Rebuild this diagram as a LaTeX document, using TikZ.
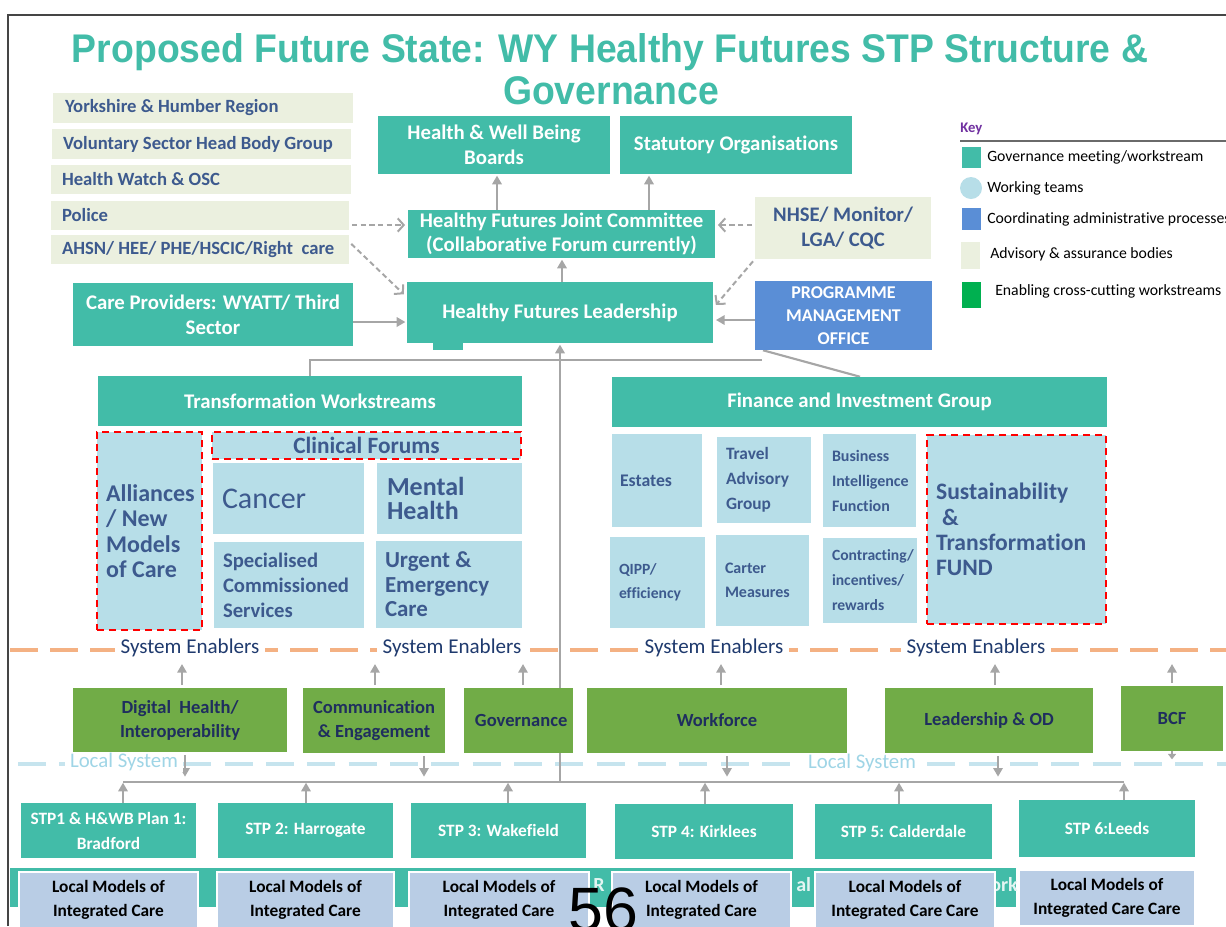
\documentclass[tikz,border=0pt]{standalone}
\usepackage{fontspec}
\usepackage{graphicx}
\setmainfont{Carlito}[Ligatures=NoCommon]
\newfontfamily\titlefont{Liberation Sans}
\usetikzlibrary{arrows.meta}
\definecolor{teal1}{HTML}{42BCA8}
\definecolor{advc}{HTML}{EBF0DF}
\definecolor{dblue}{HTML}{3D5A8E}
\definecolor{wtc}{HTML}{B7DEE8}
\definecolor{pmoc}{HTML}{5A8ED6}
\definecolor{greenc}{HTML}{71AC47}
\definecolor{navy}{HTML}{1F2E5E}
\definecolor{keygreen}{HTML}{00B050}
\definecolor{lmcol}{HTML}{B9CDE5}
\definecolor{gray1}{HTML}{A6A6A6}
\definecolor{orangec}{HTML}{F4B183}
\definecolor{lblue}{HTML}{C6E4EE}
\definecolor{lstext}{HTML}{9FD5E6}
\definecolor{seblue}{HTML}{1F3A6E}
\definecolor{purple1}{HTML}{7030A0}
\definecolor{framec}{HTML}{454545}
\pgfdeclarelayer{bg}
\pgfsetlayers{bg,main}
\newcommand\mybox[7]{%
 \pgfmathsetmacro\mybw{((#5)-(#3))*0.75}\pgfmathsetmacro\mybh{((#6)-(#4))*0.75}%
 \node[inner sep=0pt, minimum width=\mybw pt, minimum height=\mybh pt, #2] (#1) at ({((#3)+(#5))/2},{((#4)+(#6))/2}) {#7};}
\newcommand\myboxl[9]{%
 \mybox{#1}{#2}{#4}{#5}{#6}{#7}{}%
 \node[inner sep=0pt, anchor=west, align=left, #3] (#1t) at ([xshift=#8*0.75pt]#1.west) {#9};}
\tikzset{
 gov/.style={fill=teal1, text=white, align=center, font=\bfseries\fontsize{15.6}{18.75}\selectfont},
 adv/.style={fill=advc},
 advt/.style={text=dblue, font=\bfseries\fontsize{14}{16}\selectfont},
 wt/.style={fill=wtc},
 wtt/.style={text=dblue},
 rdash/.style={draw=red, line width=1.7pt, dash pattern=on 5.5pt off 3.5pt},
 ena/.style={fill=greenc, text=navy, align=center, font=\bfseries\fontsize{13.9}{18}\selectfont},
 stp/.style={fill=teal1, text=white, align=center, font=\bfseries\fontsize{13}{18.75}\selectfont},
 lm/.style={fill=lmcol, draw=white, line width=1.5pt, text=black, align=center, font=\bfseries\fontsize{13}{18}\selectfont},
 conn/.style={draw=gray1, line width=1.6pt},
 arr/.style={conn, -{Triangle[length=6.5pt,width=7pt]}},
 darr/.style={draw=gray1, line width=1.5pt, dash pattern=on 4pt off 2.5pt, -{Straight Barb[length=4.5pt,width=10pt]}},
 se/.style={fill=white, text=seblue, inner xsep=4pt, inner ysep=1pt, font=\fontsize{15.8}{18}\selectfont},
 ls/.style={fill=white, text=lstext, inner xsep=4pt, inner ysep=1pt, font=\fontsize{15.6}{18}\selectfont},
 orline/.style={draw=orangec, line width=3pt, dash pattern=on 21pt off 9pt},
 blline/.style={draw=lblue, line width=3pt, dash pattern=on 21pt off 10pt},
 keyt/.style={anchor=west, inner sep=0pt, text=black, font=\fontsize{11.8}{13}\selectfont},
 frag/.style={anchor=west, inner sep=0pt, text=white!85!teal1, font=\bfseries\fontsize{15}{18}\selectfont},
}
\begin{document}
\begin{tikzpicture}[x=0.75pt,y=-0.75pt]
\useasboundingbox (0,0) rectangle (1226,926);
% frame
\draw[draw=framec, line width=1.5pt] (8,926) -- (8,15) -- (1226,15);
% title
\node[anchor=base, inner sep=0pt, text=teal1, font=\titlefont\bfseries\fontsize{30}{36}\selectfont] (title1) at (610,62) {\resizebox{807pt}{\height}{Proposed Future State: WY Healthy Futures STP Structure \&}};
\node[anchor=base, inner sep=0pt, text=teal1, font=\titlefont\bfseries\fontsize{30}{36}\selectfont] (title2) at (611,104) {\resizebox{162pt}{\height}{Governance}};
% advisory boxes left
\myboxl{yh}{adv}{advt}{53}{93}{353}{123}{12}{Yorkshire \& Humber Region}
\myboxl{vs}{adv}{advt}{52}{129}{351}{159}{11}{Voluntary Sector Head Body Group}
\myboxl{hw}{adv}{advt}{51}{165}{351}{194}{11}{Health Watch \& OSC}
\myboxl{pol}{adv}{advt}{51}{201}{349}{230}{11}{Police}
\myboxl{ahsn}{adv}{advt}{51}{235}{349}{264}{11}{AHSN/ HEE/ PHE/HSCIC/Right\ \ care}
\mybox{care}{gov}{73}{283}{353}{346}{Care Providers: WYATT/ Third\\Sector}
% top governance
\mybox{hwb}{gov}{378}{116}{610}{174}{Health \& Well Being\\Boards}
\mybox{stat}{gov}{620}{116}{852}{174}{Statutory Organisations}
\mybox{jc}{gov, font=\bfseries\fontsize{15.6}{18}\selectfont}{408}{210}{715}{258}{Healthy Futures Joint Committee\\(Collaborative Forum currently)}
\mybox{ldrtab}{fill=teal1}{433}{340}{463}{350}{}
\mybox{ldr}{gov}{407}{282}{713}{343}{Healthy Futures Leadership}
\mybox{nhse}{adv, text=dblue, align=center, font=\bfseries\fontsize{15.5}{18.75}\selectfont}{755}{197}{931}{259}{NHSE/ Monitor/\\LGA/ CQC}
\mybox{pmo}{fill=pmoc, text=white, align=center, font=\bfseries\fontsize{13.5}{17}\selectfont}{755}{281}{932}{350}{PROGRAMME\\MANAGEMENT\\OFFICE}
% key
\node[anchor=west, inner sep=0pt, text=purple1, font=\bfseries\fontsize{11}{13}\selectfont] (key) at (960,129) {Key};
\coordinate (keyR) at (1226,141);
\draw[draw=framec!80, line width=0.8pt] (key.west |- keyR) -- (keyR);
\mybox{k1}{fill=teal1}{962}{147}{981}{168}{}
\node[circle, fill=wtc, minimum size=16.5pt, inner sep=0pt] (k2) at (971,188) {};
\mybox{k3}{fill=pmoc}{962}{208}{981}{230}{}
\mybox{k4}{fill=advc}{961}{242}{980}{269}{}
\mybox{k5}{fill=keygreen}{962}{282}{981}{308}{}
\node[keyt] (k1t) at (987,157) {Governance meeting/workstream};
\node[keyt] (k2t) at (987,188) {Working teams};
\node[keyt] (k3t) at (987,219) {Coordinating administrative processes};
\node[keyt] (k4t) at (990,254) {Advisory \& assurance bodies};
\node[keyt] (k5t) at (995,291) {Enabling cross-cutting workstreams};
% transformation workstreams
\mybox{tw}{gov}{98}{376}{522}{426}{Transformation Workstreams}
\myboxl{all}{wt, rdash}{wtt, font=\bfseries\fontsize{18}{19}\selectfont}{97}{432}{202}{630}{10}{Alliances\\/ New\\Models\\of Care}
\mybox{cf}{wt, rdash, wtt, font=\bfseries\fontsize{17.5}{18}\selectfont}{212}{432}{521}{459}{Clinical Forums}
\myboxl{can}{wt}{wtt, font=\fontsize{22.5}{26}\selectfont}{213}{463}{364}{534}{9}{Cancer}
\myboxl{mh}{wt}{wtt, font=\bfseries\fontsize{19.5}{18}\selectfont}{377}{463}{522}{534}{10}{Mental\\Health}
\myboxl{spec}{wt}{wtt, font=\bfseries\fontsize{15.5}{18.75}\selectfont}{214}{542}{364}{628}{9}{Specialised\\Commissioned\\Services}
\myboxl{urg}{wt}{wtt, font=\bfseries\fontsize{17.2}{18.4}\selectfont}{376}{541}{522}{628}{9}{Urgent \&\\Emergency\\Care}
% finance
\mybox{fig}{gov}{612}{377}{1107}{427}{Finance and Investment Group}
\myboxl{est}{wt}{wtt, font=\bfseries\fontsize{13.3}{18}\selectfont}{612}{434}{702}{527}{8}{Estates}
\myboxl{trv}{wt}{wtt, font=\bfseries\fontsize{13}{18.75}\selectfont}{717}{437}{811}{523}{9}{Travel\\Advisory\\Group}
\myboxl{bi}{wt}{wtt, font=\bfseries\fontsize{12}{18.75}\selectfont}{823}{434}{916}{527}{9}{Business\\Intelligence\\Function}
\myboxl{qipp}{wt}{wtt, font=\bfseries\fontsize{11.7}{18}\selectfont}{610}{537}{705}{628}{9}{QIPP/\\efficiency}
\myboxl{cart}{wt}{wtt, font=\bfseries\fontsize{12}{18}\selectfont}{716}{535}{809}{626}{9}{Carter\\Measures}
\myboxl{con}{wt}{wtt, font=\bfseries\fontsize{11.7}{18.75}\selectfont}{823}{538}{917}{623}{9}{Contracting/\\incentives/\\rewards}
\myboxl{stf}{wt, rdash}{wtt, font=\bfseries\fontsize{17.7}{19}\selectfont}{927}{435}{1106}{624}{10}{Sustainability\\\hspace{0.25em}\&\\Transformation\\FUND}
% system enablers
\node[se] (se1) at (190,648) {System Enablers};
\node[se] (se2) at (452,648) {System Enablers};
\node[se] (se3) at (714,648) {System Enablers};
\node[se] (se4) at (976,648) {System Enablers};
\coordinate (seY) at (0,664);
% enablers
\mybox{dig}{ena}{73}{688}{287}{752}{Digital\ \ Health/\\Interoperability}
\mybox{com}{ena}{303}{688}{445}{753}{Communication\\\& Engagement}
\mybox{govn}{ena}{464}{688}{573}{753}{\hspace{4pt}Governance}
\mybox{wf}{ena}{587}{688}{847}{753}{Workforce}
\mybox{lod}{ena}{885}{688}{1093}{753}{Leadership \& OD}
\mybox{bcf}{ena}{1121}{686}{1223}{751}{BCF}
% local system
\node[ls] (ls1) at (124,762) {Local System};
\node[ls] (ls2) at (862,763) {Local System};
\coordinate (busL) at (123,782);
\coordinate (busR) at (1124,782);
% STP
\mybox{stp1}{stp}{21}{803}{196}{858}{STP1 \& H\&WB Plan 1:\\Bradford}
\mybox{stp2}{stp}{218}{803}{393}{858}{STP 2: Harrogate}
\mybox{stp3}{stp}{411}{803}{586}{858}{STP 3: Wakefield}
\mybox{stp4}{stp}{615}{804}{793}{859}{STP 4: Kirklees}
\mybox{stp5}{stp}{815}{804}{992}{859}{STP 5: Calderdale}
\mybox{stp6}{stp}{1019}{800}{1195}{857}{STP 6:Leeds}
% bottom band
\mybox{bar}{fill=teal1}{10}{868}{1016}{907}{}
\node[frag] (fr1) at (593,885) {R};
\node[frag] (fr2) at (796,885) {al};
\node[frag] (fr3) at (990,885) {ork};
\mybox{lm1}{lm}{19}{872}{198}{928}{Local Models of\\Integrated Care}
\mybox{lm2}{lm}{217}{872}{394}{928}{Local Models of\\Integrated Care}
\mybox{lm3}{lm}{409}{872}{589}{928}{Local Models of\\Integrated Care}
\mybox{lm4}{lm}{612}{872}{791}{928}{Local Models of\\Integrated Care}
\mybox{lm5}{lm}{815}{872}{995}{928}{Local Models of\\Integrated Care Care}
\mybox{lm6}{lm}{1019}{870}{1195}{926}{Local Models of\\Integrated Care Care}
\node[anchor=base west, inner sep=0pt, text=black, font=\titlefont\fontsize{47}{47}\selectfont] (pg) at (568,931) {56};
% connectors
\begin{pgfonlayer}{bg}
\draw[orline] (10,650) -- (1226,650);
\draw[blline] (18,764) -- (1226,764);
\draw[arr, shorten >=1pt] (497,0 |- jc.north) -- (497,0 |- hwb.south);
\draw[arr, shorten >=1pt] (649,0 |- jc.north) -- (649,0 |- stat.south);
\draw[arr, shorten >=1pt] (562,0 |- ldr.north) -- (562,0 |- jc.south);
\draw[darr, shorten <=2pt, shorten >=2pt] (pol.east |- 0,225) -- (jc.west |- 0,225);
\draw[darr, shorten <=2pt, shorten >=3pt] (ahsn.east |- 0,242) -- (ldr.west |- 0,297);
\draw[arr, shorten >=1pt] (care.east |- 0,322) -- (ldr.west |- 0,322);
\draw[darr, shorten <=2pt, shorten >=2pt] (nhse.west |- 0,225) -- (jc.east |- 0,225);
\draw[darr, shorten <=2pt, shorten >=3pt] (nhse.south west) -- (ldr.east |- 0,308);
\draw[arr, shorten >=2pt] (pmo.west |- 0,320) -- (ldr.east |- 0,320);
\coordinate (hubR) at (762,360);
\draw[conn] (tw.north -| 310,0) |- (hubR);
\draw[conn] (763,0 |- pmo.south) -- (860,0 |- fig.north);
\draw[arr, shorten >=1pt] (560,0 |- busL) -- (560,0 |- ldr.south);
\draw[conn] (busL) -- (busR);
% enablers up
\foreach \n/\x in {dig/182, com/375, govn/523, wf/721, lod/995, bcf/1172}
  \draw[arr, shorten <=2pt] (\x,0 |- \n.north) -- (\x,0 |- seY);
% enablers down
\foreach \n/\x in {dig/185, com/424, wf/727, lod/998}
  \draw[arr, shorten <=2pt, shorten >=4pt] (\x,0 |- \n.south) -- (\x,0 |- busL);
\draw[draw=gray1, line width=1pt, -{Triangle[length=4pt,width=6pt]}] (1172,0 |- bcf.south) -- ++(0,8);
% STP up
\foreach \n/\x in {stp1/123, stp2/306, stp3/508, stp4/705, stp5/899, stp6/1124}
  \draw[arr, shorten >=0.5pt] (\x,0 |- \n.north) -- (\x,0 |- busL);
\end{pgfonlayer}
\end{tikzpicture}
\end{document}
